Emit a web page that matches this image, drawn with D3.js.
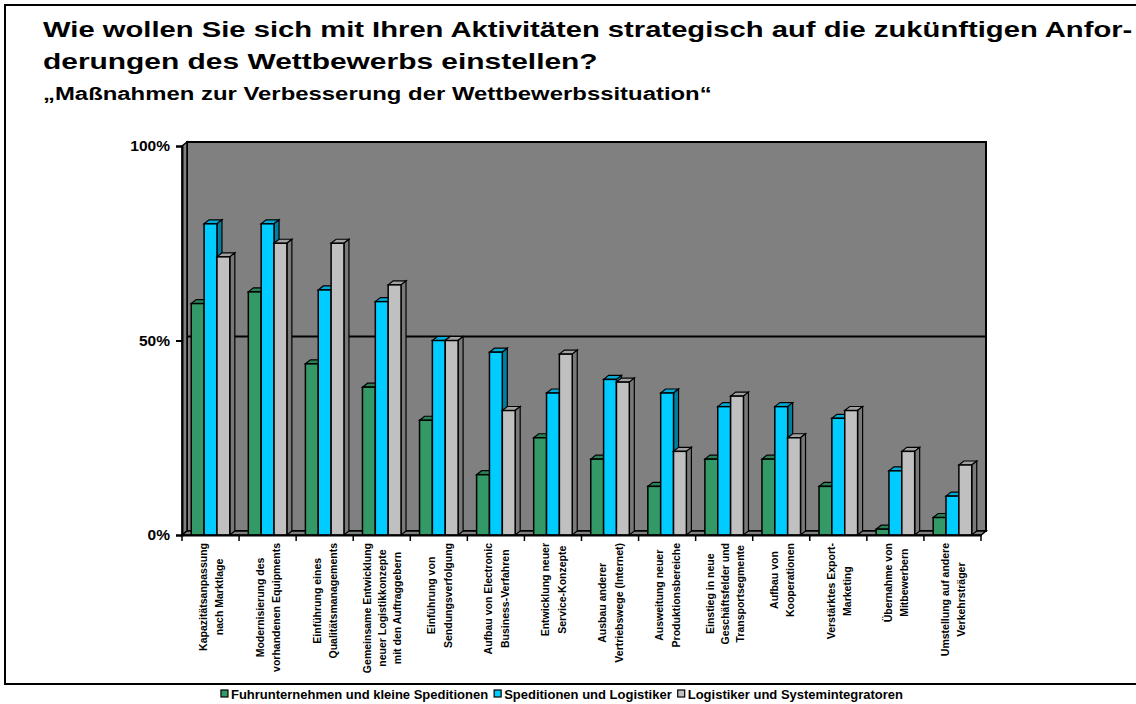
<!DOCTYPE html>
<html>
<head>
<meta charset="utf-8">
<script src="https://cdn.jsdelivr.net/npm/d3@7"></script>
<style>
  body { margin: 0; background: #fff; }
  svg text { font-family: "Liberation Sans", Arial, sans-serif; font-weight: bold; fill: #000; }
</style>
</head>
<body>
<div id="chart"></div>
<script>
// Kategorien (Zeilen der Beschriftung)
const categories = [
  ["Kapazitätsanpassung", "nach Marktlage"],
  ["Modernisierung des", "vorhandenen Equipments"],
  ["Einführung eines", "Qualitätsmanagements"],
  ["Gemeinsame Entwicklung", "neuer Logistikkonzepte", "mit den Auftraggebern"],
  ["Einführung von", "Sendungsverfolgung"],
  ["Aufbau von Electronic", "Business-Verfahren"],
  ["Entwicklung neuer", "Service-Konzepte"],
  ["Ausbau anderer", "Vertriebswege (Internet)"],
  ["Ausweitung neuer", "Produktionsbereiche"],
  ["Einstieg in neue", "Geschäftsfelder und", "Transportsegmente"],
  ["Aufbau von", "Kooperationen"],
  ["Verstärktes Export-", "Marketing"],
  ["Übernahme von", "Mitbewerbern"],
  ["Umstellung auf andere", "Verkehrsträger"]
];

const seriesNames = [
  "Fuhrunternehmen und kleine Speditionen",
  "Speditionen und Logistiker",
  "Logistiker und Systemintegratoren"
];

// Werte in %
const fuhrunternehmen = [59.5, 62.5, 44, 38, 29.5, 15.5, 25, 19.5, 12.5, 19.5, 19.5, 12.5, 1.5, 4.5];
const speditionen = [80, 80, 63, 60, 50, 47, 36.5, 40, 36.5, 33, 33, 30, 16.5, 10];
const logistiker = [71.5, 75, 75, 64.3, 50, 32, 46.5, 39.3, 21.5, 35.7, 25, 32, 21.5, 18];

const yTicks = [0, 50, 100];
const colors = ["#339966", "#00ccff", "#c0c0c0"];

const W = 1136, H = 704;
const dx = 5, dy = -4; // Tiefe der 3D-Darstellung

const svg = d3.select("#chart").append("svg")
  .attr("width", W).attr("height", H);

// Rahmen
svg.append("rect")
  .attr("x", 5).attr("y", 5).attr("width", W + 20).attr("height", 679)
  .attr("fill", "none").attr("stroke", "#000").attr("stroke-width", 2);

// Titel: Schrift im Original breiter, daher horizontal skaliert
function wideText(str, tx, ty, size, targetWidth) {
  const t = svg.append("text").style("font-size", size + "px").text(str);
  const w = t.node().getComputedTextLength();
  t.attr("transform", `translate(${tx},${ty}) scale(${targetWidth / w},1)`);
  return t;
}
wideText("Wie wollen Sie sich mit Ihren Aktivitäten strategisch auf die zukünftigen Anfor-", 43, 37, 22, 1090);
wideText("derungen des Wettbewerbs einstellen?", 43, 69, 22, 555);
wideText("„Maßnahmen zur Verbesserung der Wettbewerbssituation“", 43, 100, 17.5, 669);

// Skalen
const x = d3.scaleBand()
  .domain(d3.range(categories.length))
  .range([182, 981])
  .padding(0);

const xInner = d3.scaleBand()
  .domain(d3.range(3))
  .range([0, x.bandwidth()])
  .paddingInner(0)
  .paddingOuter(0.72);

const y = d3.scaleLinear().domain([0, 100]).range([535, 146]);

const x0 = x.range()[0], x1 = x.range()[1];
const yTop = y(100), yBase = y(0);

const g = svg.append("g");

// Rückwand
g.append("rect")
  .attr("x", x0 + dx).attr("y", yTop + dy)
  .attr("width", x1 - x0).attr("height", yBase - yTop)
  .attr("fill", "#808080").attr("stroke", "#000").attr("stroke-width", 2);

// Gitterlinie 50%
g.append("line")
  .attr("x1", x0 + dx).attr("x2", x1 + dx)
  .attr("y1", y(50) + dy).attr("y2", y(50) + dy)
  .attr("stroke", "#000").attr("stroke-width", 2);

// Seitenwand
g.append("path")
  .attr("d", `M${x0},${yTop} L${x0 + dx},${yTop + dy} L${x0 + dx},${yBase + dy} L${x0},${yBase} Z`)
  .attr("fill", "#808080").attr("stroke", "#000").attr("stroke-width", 1.5);

// Boden
g.append("path")
  .attr("d", `M${x0},${yBase} L${x1},${yBase} L${x1 + dx},${yBase + dy} L${x0 + dx},${yBase + dy} Z`)
  .attr("fill", "#808080").attr("stroke", "#000").attr("stroke-width", 1.5);

// Balken
const allSeries = [fuhrunternehmen, speditionen, logistiker];
const bars = [];
categories.forEach((c, i) => {
  allSeries.forEach((s, k) => {
    bars.push({ cat: i, series: k, value: s[i] });
  });
});

const bar = g.selectAll(".bar")
  .data(bars)
  .enter().append("g")
  .attr("class", "bar");

bar.each(function(d) {
  const el = d3.select(this);
  const bx = x(d.cat) + xInner(d.series);
  const bw = xInner.bandwidth();
  const by = y(d.value);
  const base = d3.color(colors[d.series]);
  // Oberseite
  el.append("path")
    .attr("d", `M${bx},${by} L${bx + dx},${by + dy} L${bx + bw + dx},${by + dy} L${bx + bw},${by} Z`)
    .attr("fill", base.darker(0.5))
    .attr("stroke", "#000").attr("stroke-width", 1.2);
  // Seite
  el.append("path")
    .attr("d", `M${bx + bw},${by} L${bx + bw + dx},${by + dy} L${bx + bw + dx},${yBase + dy} L${bx + bw},${yBase} Z`)
    .attr("fill", base.darker(1.3))
    .attr("stroke", "#000").attr("stroke-width", 1.2);
  // Vorderseite
  el.append("rect")
    .attr("x", bx).attr("y", by)
    .attr("width", bw).attr("height", yBase - by)
    .attr("fill", base)
    .attr("stroke", "#000").attr("stroke-width", 1.5);
});

// Achsen
const yAxis = d3.axisLeft(y)
  .tickValues(yTicks)
  .tickSize(6)
  .tickFormat(d => d + "%");

const yAx = svg.append("g")
  .attr("transform", `translate(${x0},0)`)
  .call(yAxis);
yAx.select(".domain").attr("stroke", "#000").attr("stroke-width", 2);
yAx.selectAll(".tick line").attr("stroke", "#000").attr("stroke-width", 2);
yAx.selectAll(".tick text")
  .attr("x", -12)
  .style("font-family", "'Liberation Sans', Arial, sans-serif")
  .style("font-weight", "bold")
  .style("font-size", "15.5px");

const xAxis = d3.axisBottom(x)
  .tickValues([])
  .tickSizeOuter(0);
const xAx = svg.append("g")
  .attr("transform", `translate(0,${yBase})`)
  .call(xAxis);
xAx.select(".domain").attr("stroke", "#000").attr("stroke-width", 2);
xAx.selectAll(".sep")
  .data(d3.range(categories.length + 1))
  .enter().append("line")
  .attr("class", "sep")
  .attr("x1", i => x0 + i * x.bandwidth())
  .attr("x2", i => x0 + i * x.bandwidth())
  .attr("y1", 0).attr("y2", 6)
  .attr("stroke", "#000").attr("stroke-width", 1.5);

// Kategoriebeschriftung (gedreht)
const labelTop = 543;
const labelSize = 10.5;
categories.forEach((lines, i) => {
  const cx = x(i) + x.bandwidth() / 2 + 0.5;
  const lh = lines.length === 3 ? 15 : 16.5;
  const grp = svg.append("g");
  const texts = lines.map((t, j) => grp.append("text")
    .style("font-size", labelSize + "px")
    .attr("text-anchor", "middle")
    .attr("dominant-baseline", "central")
    .text(t));
  const maxW = d3.max(texts, t => t.node().getComputedTextLength());
  const cy = labelTop + maxW / 2;
  texts.forEach((t, j) => {
    const lx = cx + (j - (lines.length - 1) / 2) * lh;
    t.attr("transform", `translate(${lx},${cy}) rotate(-90)`);
  });
});

// Legende
const legend = svg.append("g").attr("transform", "translate(0,694)");
const items = legend.selectAll(".item")
  .data(seriesNames)
  .enter().append("g").attr("class", "item");
items.append("rect")
  .attr("width", 7).attr("height", 7).attr("y", -4)
  .attr("fill", (d, i) => colors[i])
  .attr("stroke", "#000").attr("stroke-width", 1.2);
items.append("text")
  .attr("x", 10)
  .attr("dominant-baseline", "central")
  .style("font-size", "13px")
  .text(d => d);
let pos = 0;
const widths = [];
items.each(function() { widths.push(this.getBBox().width); });
const total = d3.sum(widths) + 6 * (widths.length - 1);
pos = 562 - total / 2;
items.attr("transform", (d, i) => {
  const p = pos;
  pos += widths[i] + 6;
  return `translate(${p},0)`;
});
</script>
</body>
</html>
